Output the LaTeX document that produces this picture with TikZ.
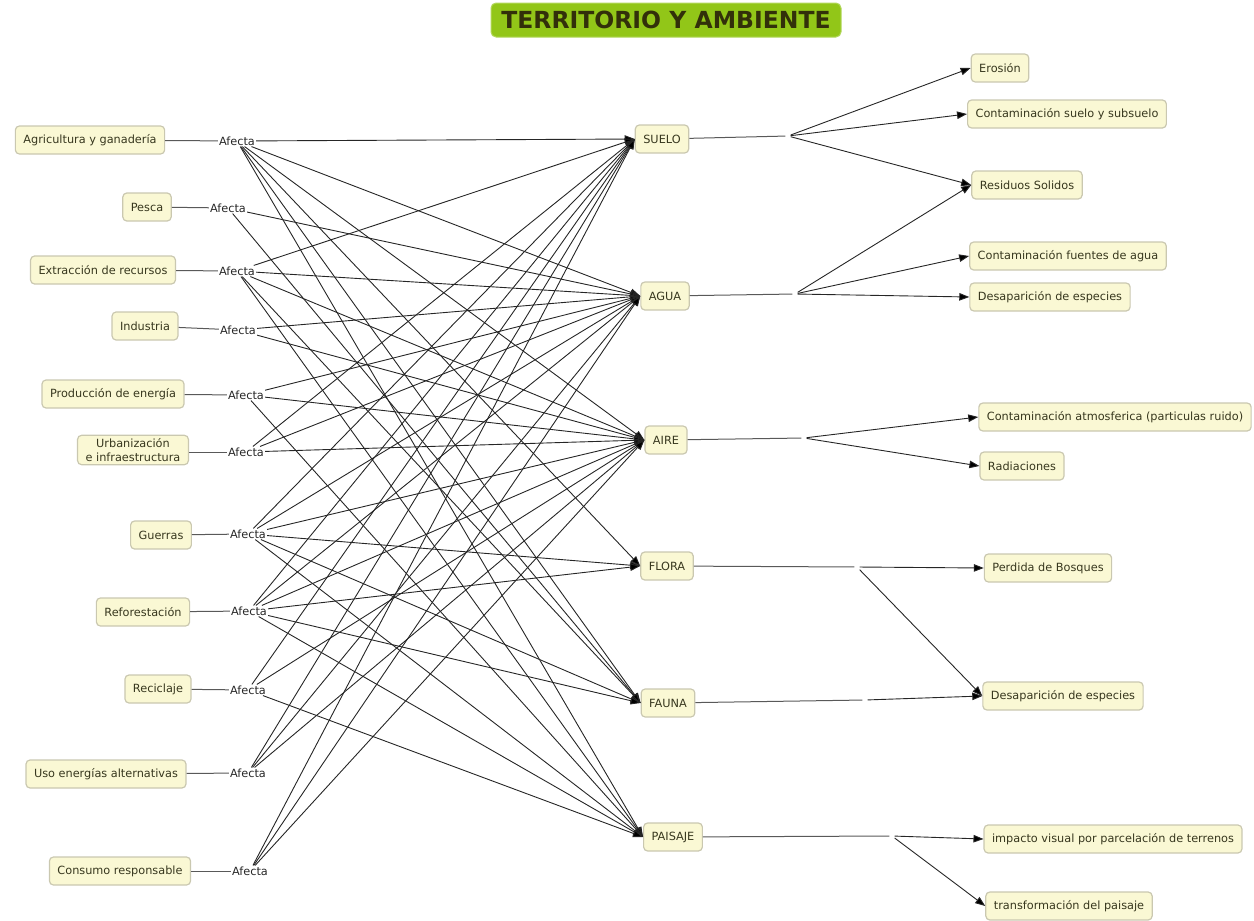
\documentclass[tikz,border=0pt]{standalone}
\usepackage{fontspec}
\setmainfont{DejaVu Sans}
\usetikzlibrary{arrows.meta, positioning}
\definecolor{boxfill}{RGB}{250, 248, 212}
\definecolor{boxline}{RGB}{202, 200, 176}
\definecolor{boxtext}{RGB}{55, 55, 30}
\definecolor{titlegreen}{RGB}{146, 198, 24}
\definecolor{titletext}{RGB}{50, 48, 10}

\begin{document}
\begin{tikzpicture}[x=1pt, y=-1pt,
  box/.style={draw=boxline, line width=1.2pt, fill=boxfill, rounded corners=4pt, text=boxtext, font=\fontsize{11.3}{13.5}\selectfont, inner xsep=8pt, minimum height=28pt, align=center},
  link/.style={font=\fontsize{11.3}{13.5}\selectfont, text=black!85, inner sep=1pt},
  junc/.style={inner sep=2.5pt},
  plain/.style={draw=black!65, line width=1pt},
  arr/.style={draw=black!85, line width=0.9pt, -{Triangle[length=10pt,width=7.5pt]}},
]
\useasboundingbox (0,0) rectangle (1254,921);

% Title
\node[draw=titlegreen!70!white, line width=1pt, fill=titlegreen, rounded corners=5pt, text=titletext, font=\fontsize{23.5}{27}\selectfont\bfseries, minimum width=350pt, minimum height=34pt] (title) at (666,20) {TERRITORIO Y AMBIENTE};

% Activities
\node[box] (agri) at (90,140) {Agricultura y ganadería};
\node[box] (pesca) at (147,207) {Pesca};
\node[box] (extr) at (103,270) {Extracción de recursos};
\node[box] (indu) at (145,326) {Industria};
\node[box] (prod) at (113,394) {Producción de energía};
\node[box] (urba) at (133,450) {Urbanización\\e infraestructura};
\node[box] (guer) at (161,535) {Guerras};
\node[box] (refo) at (143,612) {Reforestación};
\node[box] (reci) at (158,689) {Reciclaje};
\node[box] (uso) at (106,774) {Uso energías alternativas};
\node[box] (cons) at (120,871) {Consumo responsable};

% Afecta links
\node[link] (af1) at (237,141) {Afecta};
\node[link] (af2) at (228,208) {Afecta};
\node[link] (af3) at (237,271) {Afecta};
\node[link] (af4) at (238,330) {Afecta};
\node[link] (af5) at (246,395) {Afecta};
\node[link] (af6) at (246,452) {Afecta};
\node[link] (af7) at (248,534) {Afecta};
\node[link] (af8) at (249,611) {Afecta};
\node[link] (af9) at (248,690) {Afecta};
\node[link] (af10) at (248,773) {Afecta};
\node[link] (af11) at (250,871) {Afecta};

\draw[plain] (agri) -- (af1);
\draw[plain] (pesca) -- (af2);
\draw[plain] (extr) -- (af3);
\draw[plain] (indu) -- (af4);
\draw[plain] (prod) -- (af5);
\draw[plain] (urba.east |- af6) -- (af6);
\draw[plain] (guer) -- (af7);
\draw[plain] (refo) -- (af8);
\draw[plain] (reci) -- (af9);
\draw[plain] (uso) -- (af10);
\draw[plain] (cons) -- (af11);

% Territory components
\node[box] (suelo) at (662,139) {SUELO};
\node[box] (agua) at (665,296) {AGUA};
\node[box] (aire) at (666,440) {AIRE};
\node[box] (flora) at (667,566) {FLORA};
\node[box] (fauna) at (668,703) {FAUNA};
\node[box] (paisaje) at (673,837) {PAISAJE};

\draw[arr] (af1) edge (suelo.west) edge (agua.west) edge (aire.west) edge (flora.west) edge (fauna.west) edge (paisaje.west);
\draw[arr] (af2) edge (agua.west) edge (fauna.west);
\draw[arr] (af3) edge (suelo.west) edge (agua.west) edge (aire.west) edge (fauna.west) edge (paisaje.west);
\draw[arr] (af4) edge (agua.west) edge (aire.west);
\draw[arr] (af5) edge (agua.west) edge (aire.west) edge (paisaje.west);
\draw[arr] (af6) edge (suelo.west) edge (agua.west) edge (aire.west);
\draw[arr] (af7) edge (suelo.west) edge (agua.west) edge (aire.west) edge (flora.west) edge (fauna.west) edge (paisaje.west);
\draw[arr] (af8) edge (suelo.west) edge (agua.west) edge (aire.west) edge (flora.west) edge (fauna.west) edge (paisaje.west);
\draw[arr] (af9) edge (suelo.west) edge (aire.west) edge (paisaje.west);
\draw[arr] (af10) edge (suelo.west) edge (agua.west) edge (aire.west);
\draw[arr] (af11) edge (suelo.west) edge (agua.west) edge (aire.west);

% Effects
\node[box] (eros) at (1000,68) {Erosión};
\node[box] (csuelo) at (1067,114) {Contaminación suelo y subsuelo};
\node[box] (resid) at (1027,185) {Residuos Solidos};
\node[box] (cagua) at (1068,256) {Contaminación fuentes de agua};
\node[box] (desap1) at (1050,297) {Desaparición de especies};
\node[box] (catm) at (1115,417) {Contaminación atmosferica (particulas ruido)};
\node[box] (radi) at (1022,466) {Radiaciones};
\node[box] (bosq) at (1048,568) {Perdida de Bosques};
\node[box] (desap2) at (1063,696) {Desaparición de especies};
\node[box] (impac) at (1113,839) {impacto visual por parcelación de terrenos};
\node[box] (trans) at (1069,906) {transformación del paisaje};

% Empty link phrases
\node[junc] (jsuelo) at (788,136) {};
\node[junc] (jagua) at (795,294) {};
\node[junc] (jaire) at (804,438) {};
\node[junc] (jflora) at (857,567) {};
\node[junc] (jfauna) at (865,700) {};
\node[junc] (jpaisaje) at (892,836) {};

\draw[plain] (suelo) -- (jsuelo);
\draw[plain] (agua) -- (jagua);
\draw[plain] (aire) -- (jaire);
\draw[plain] (flora) -- (jflora);
\draw[plain] (fauna) -- (jfauna);
\draw[plain] (paisaje) -- (jpaisaje);

\draw[arr] (jsuelo) edge (eros.west) edge (csuelo.west) edge (resid.west);
\draw[arr] (jagua) edge (resid.west) edge (cagua.west) edge (desap1.west);
\draw[arr] (jaire) edge (catm.west) edge (radi.west);
\draw[arr] (jflora) edge (bosq.west) edge (desap2.west);
\draw[arr] (jfauna) edge (desap2.west);
\draw[arr] (jpaisaje) edge (impac.west) edge (trans.west);
\end{tikzpicture}
\end{document}
